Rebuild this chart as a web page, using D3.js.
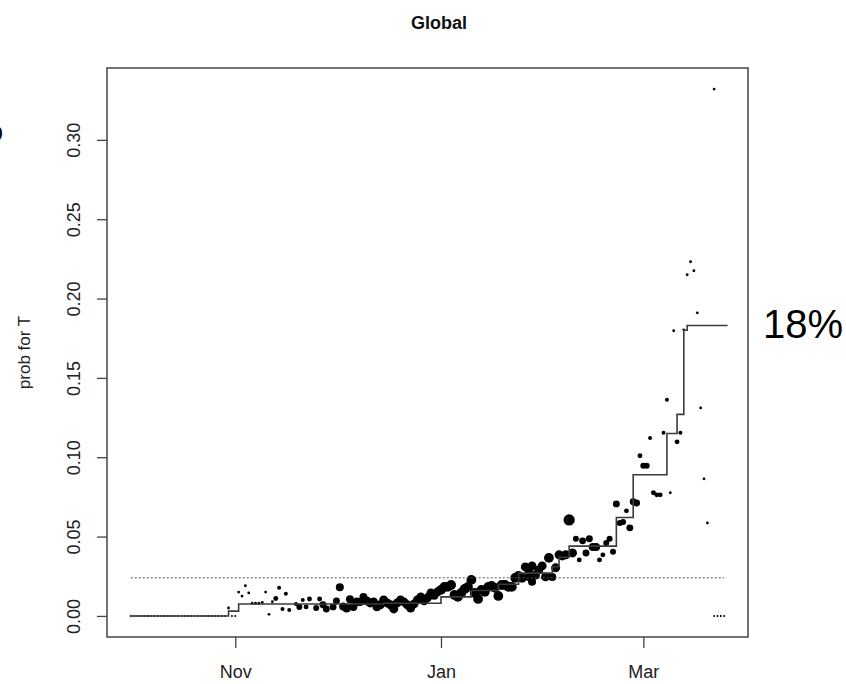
<!DOCTYPE html>
<html>
<head>
<meta charset="utf-8">
<script src="https://cdn.jsdelivr.net/npm/d3@7"></script>
<style>
  body { margin: 0; background: #fff; }
  svg text { font-family: "Liberation Sans", Arial, Helvetica, sans-serif; }
</style>
</head>
<body>
<svg id="chart" width="846" height="684"></svg>
<script>
// daily probability estimates, Oct 2019 - Mar 2020 (weight = size of the day's sample)
const pointDates = [
  // Oct
  "2019-10-01","2019-10-02","2019-10-03","2019-10-04","2019-10-05","2019-10-06","2019-10-07","2019-10-08",
  "2019-10-09","2019-10-10","2019-10-11","2019-10-12","2019-10-13","2019-10-14","2019-10-15","2019-10-16",
  "2019-10-17","2019-10-18","2019-10-19","2019-10-20","2019-10-21","2019-10-22","2019-10-23","2019-10-24",
  "2019-10-25","2019-10-26","2019-10-27","2019-10-28","2019-10-29","2019-10-30","2019-10-31",
  // Nov
  "2019-11-01","2019-11-02","2019-11-03","2019-11-04","2019-11-05","2019-11-06","2019-11-07","2019-11-08",
  "2019-11-09","2019-11-10","2019-11-11","2019-11-12","2019-11-13","2019-11-14","2019-11-15","2019-11-16",
  "2019-11-17","2019-11-19","2019-11-20","2019-11-21","2019-11-22","2019-11-23","2019-11-25","2019-11-26",
  "2019-11-27","2019-11-28","2019-11-30",
  // Dec
  "2019-12-01","2019-12-02","2019-12-03","2019-12-04","2019-12-05","2019-12-06","2019-12-07","2019-12-08",
  "2019-12-09","2019-12-10","2019-12-11","2019-12-12","2019-12-13","2019-12-14","2019-12-15","2019-12-16",
  "2019-12-17","2019-12-18","2019-12-19","2019-12-20","2019-12-21","2019-12-22","2019-12-23","2019-12-24",
  "2019-12-25","2019-12-26","2019-12-27","2019-12-28","2019-12-29","2019-12-30","2019-12-31",
  // Jan
  "2020-01-01","2020-01-02","2020-01-03","2020-01-04","2020-01-05","2020-01-06","2020-01-07","2020-01-08",
  "2020-01-09","2020-01-10","2020-01-11","2020-01-12","2020-01-13","2020-01-14","2020-01-15","2020-01-16",
  "2020-01-17","2020-01-18","2020-01-19","2020-01-20","2020-01-21","2020-01-22","2020-01-23","2020-01-24",
  "2020-01-25","2020-01-26","2020-01-27","2020-01-28","2020-01-29","2020-01-30","2020-01-31",
  "2020-01-27","2020-01-28",
  // Feb
  "2020-02-01","2020-02-02","2020-02-03","2020-02-04","2020-02-05","2020-02-06","2020-02-07","2020-02-08",
  "2020-02-09","2020-02-10","2020-02-11","2020-02-12","2020-02-13","2020-02-14","2020-02-15","2020-02-16",
  "2020-02-17","2020-02-18","2020-02-19","2020-02-20","2020-02-21","2020-02-22","2020-02-23","2020-02-24",
  "2020-02-25","2020-02-26","2020-02-27","2020-02-28","2020-02-29",
  // Mar
  "2020-03-01","2020-03-02","2020-03-03","2020-03-04","2020-03-05","2020-03-06","2020-03-07","2020-03-08",
  "2020-03-09","2020-03-10","2020-03-11","2020-03-12","2020-03-13","2020-03-14","2020-03-15","2020-03-16",
  "2020-03-17","2020-03-18","2020-03-19","2020-03-20","2020-03-22","2020-03-22","2020-03-23","2020-03-24",
  "2020-03-25"
];

const pointValues = [
  // Oct
  0,0,0,0,0,0,0,0, 0,0,0,0,0,0,0,0, 0,0,0,0,0,0,0,0, 0,0,0,0,0,0.005,0,
  // Nov
  0,0.015,0.0125,0.019,0.0145,0.008,0.008,0.008, 0.0085,0.015,0.001,0.009,0.011,0.0177,0.0044,0.014,
  0.0038,0.0075,0.0057,0.010,0.0057,0.0107,0.005,0.0107, 0.007,0.0044,0.0057,
  // Dec
  0.0095,0.018,0.006,0.005,0.0105,0.0057,0.0088,0.0088, 0.012,0.0095,0.0082,0.0088,0.0057,0.007,0.0101,0.0082,
  0.007,0.0044,0.0082,0.0101,0.0088,0.007,0.005,0.0076, 0.0101,0.012,0.0095,0.0114,0.0145,0.013,0.0152,
  // Jan
  0.0164,0.0183,0.0183,0.0195,0.0132,0.012,0.0145,0.017, 0.0183,0.0227,0.0145,0.0107,0.0164,0.0152,0.0183,0.0189,
  0.0177,0.0126,0.0195,0.0195,0.0183,0.0183,0.024,0.0252, 0.024,0.0309,0.029,0.0315,0.0258,0.029,0.0315,
  0.0246,0.0215,
  // Feb
  0.0246,0.0366,0.0246,0.0303,0.0385,0.0378,0.0385,0.0605, 0.0397,0.0486,0.0353,0.0473,0.0397,0.0486,0.0435,0.0435,
  0.0353,0.0385,0.046,0.0486,0.0404,0.0706,0.0586,0.0592, 0.0662,0.0555,0.0719,0.0712,0.1009,
  // Mar
  0.0946,0.0946,0.1122,0.0776,0.0763,0.0763,0.1154,0.1362, 0.0776,0.1797,0.1097,0.1154,0.1803,0.215,0.2232,0.2175,
  0.191,0.1311,0.0864,0.0586,0.332,0,0,0, 0
];

const pointWeights = [
  // Oct
  1,1,1,1,1,1,1,1, 1,1,1,1,1,1,1,1, 1,1,1,1,1,1,1,1, 1,1,1,1,1,2,1,
  // Nov
  1,2,2,2,2,2,2,2, 2,2,2,2,6,4,4,4, 4,4,9,4,6,6,9,6, 12,12,12,
  // Dec
  12,16,16,20,16,16,20,16, 16,20,20,20,20,20,20,20, 20,20,20,20,20,20,20,20, 20,20,20,20,20,20,20,
  // Jan
  24,24,24,24,24,24,24,24, 24,24,24,24,24,24,24,24, 24,24,24,24,24,24,24,24, 24,20,20,20,20,20,20,
  16,16,
  // Feb
  20,24,16,20,20,20,20,32, 20,9,6,12,12,12,16,16, 6,6,9,9,9,12,9,9, 6,12,12,12,6,
  // Mar
  9,9,4,6,6,6,4,4, 2,2,6,4,2,2,2,2, 2,2,2,2,2,1,1,1, 1
];

// running estimate (step function)
const stepDates = ["2019-10-01","2019-10-30","2019-11-02","2019-12-15","2020-01-01","2020-01-10",
  "2020-01-18","2020-01-24","2020-02-03","2020-02-05","2020-02-08","2020-02-22","2020-02-27",
  "2020-03-08","2020-03-11","2020-03-13","2020-03-14","2020-03-26"];
const stepValues = [0, 0.003, 0.0075, 0.008, 0.012, 0.016,
  0.020, 0.027, 0.031, 0.037, 0.044, 0.062, 0.089,
  0.115, 0.127, 0.180, 0.183, 0.183];

// reference level (dotted)
const refLevel = 0.024;

const yTicks = [0, 0.05, 0.10, 0.15, 0.20, 0.25, 0.30];
const xTickDates = ["2019-11-01", "2020-01-01", "2020-03-01"];
const xTickLabels = ["Nov", "Jan", "Mar"];

const parse = d3.utcParse("%Y-%m-%d");
const points = pointDates.map((d, i) => ({ date: parse(d), value: pointValues[i], weight: pointWeights[i] }));
const steps = stepDates.map((d, i) => ({ date: parse(d), value: stepValues[i] }));

const box = { left: 107, right: 748, top: 68, bottom: 637 };
const svg = d3.select("#chart");

// R style axis ranges: data extent plus 4% on each side
const xExt = d3.extent(points, d => d.date);
const xPad = (xExt[1] - xExt[0]) * 0.04;
const x = d3.scaleUtc()
  .domain([new Date(+xExt[0] - xPad), new Date(+xExt[1] + xPad)])
  .range([box.left, box.right]);

const yExt = d3.extent(pointValues);
const yPad = (yExt[1] - yExt[0]) * 0.04;
const y = d3.scaleLinear()
  .domain([yExt[0] - yPad, yExt[1] + yPad])
  .range([box.bottom, box.top]);

const r = d3.scaleSqrt().domain([0, 25]).range([0, 5]);

// points
svg.append("g")
  .selectAll("circle")
  .data(points)
  .enter()
  .append("circle")
  .attr("cx", d => x(d.date))
  .attr("cy", d => y(d.value))
  .attr("r", d => r(d.weight))
  .attr("fill", "#000");

// step line
svg.append("path")
  .datum(steps)
  .attr("fill", "none")
  .attr("stroke", "#3a3a3a")
  .attr("stroke-width", 1.6)
  .attr("d", d3.line().curve(d3.curveStepAfter).x(d => x(d.date)).y(d => y(d.value)));

// dotted reference line over the data range
svg.append("line")
  .attr("x1", x(xExt[0]))
  .attr("x2", x(xExt[1]))
  .attr("y1", y(refLevel))
  .attr("y2", y(refLevel))
  .attr("stroke", "#555")
  .attr("stroke-width", 1)
  .attr("stroke-dasharray", "2,2");

// bottom axis
svg.append("g")
  .attr("transform", "translate(0," + box.bottom + ")")
  .call(d3.axisBottom(x).tickValues(xTickDates.map(parse)).tickFormat((d, i) => xTickLabels[i]).tickSize(11))
  .call(g => g.select(".domain").remove())
  .call(g => g.selectAll("line").attr("stroke", "#444").attr("stroke-width", 1.3))
  .call(g => g.selectAll("text")
    .attr("y", 41).attr("dy", null)
    .attr("font-size", 18).attr("font-family", "Liberation Sans, Arial, sans-serif").attr("fill", "#222"));

// left axis, labels parallel to the axis
svg.append("g")
  .attr("transform", "translate(" + box.left + ",0)")
  .call(d3.axisLeft(y).tickValues(yTicks).tickFormat(d3.format(".2f")).tickSize(10))
  .call(g => g.select(".domain").remove())
  .call(g => g.selectAll("line").attr("stroke", "#444").attr("stroke-width", 1.3))
  .call(g => g.selectAll("text")
    .attr("transform", "rotate(-90)")
    .attr("x", 0).attr("y", -27).attr("dy", null)
    .attr("text-anchor", "middle")
    .attr("font-size", 18).attr("font-family", "Liberation Sans, Arial, sans-serif").attr("fill", "#222"));

// plot box
svg.append("rect")
  .attr("x", box.left)
  .attr("y", box.top)
  .attr("width", box.right - box.left)
  .attr("height", box.bottom - box.top)
  .attr("fill", "none")
  .attr("stroke", "#444")
  .attr("stroke-width", 1.5);

// titles
svg.append("text")
  .attr("x", 439)
  .attr("y", 29)
  .attr("text-anchor", "middle")
  .attr("font-size", 18)
  .attr("font-weight", "bold")
  .attr("fill", "#111")
  .text("Global");

svg.append("text")
  .attr("transform", "translate(30," + (box.top + box.bottom) / 2 + ") rotate(-90)")
  .attr("text-anchor", "middle")
  .attr("font-size", 17)
  .attr("fill", "#222")
  .text("prob for T");

// annotation
svg.append("text")
  .attr("x", 763)
  .attr("y", 338)
  .attr("font-size", 40)
  .attr("font-family", "Noto Sans, Open Sans, sans-serif")
  .attr("fill", "#000")
  .text("18%");

// glyph clipped by the left edge, as in the source picture
svg.append("text")
  .attr("x", 3)
  .attr("y", 141)
  .attr("text-anchor", "end")
  .attr("font-size", 28)
  .attr("font-family", "Noto Sans, Open Sans, sans-serif")
  .attr("fill", "#000")
  .text("o");
</script>
</body>
</html>
